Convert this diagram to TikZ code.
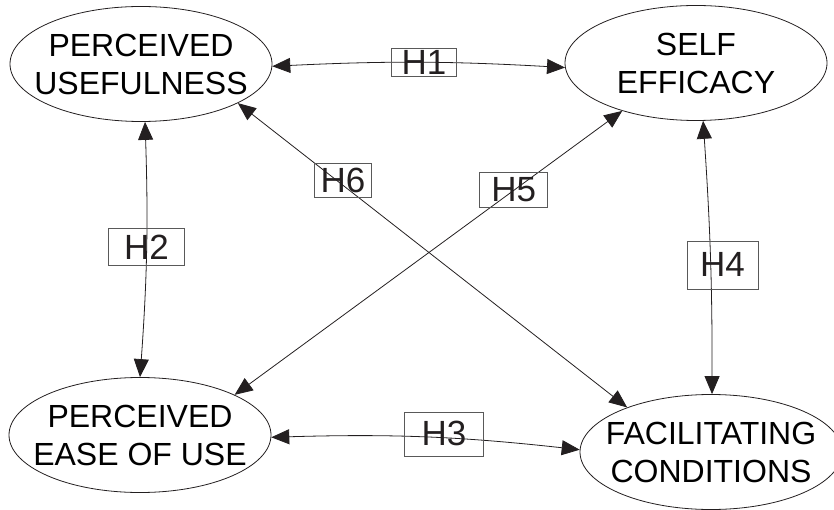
\documentclass[tikz,border=0pt]{standalone}
\usepackage[dvipsnames]{xcolor}
\usepackage{fontspec}
\setmainfont{Liberation Sans}
\usetikzlibrary{arrows.meta,shapes.geometric}
\definecolor{BoxColor}{gray}{0.35}
\newcommand{\ew}{262pt}
\newcommand{\eh}{115pt}
\tikzset{
    construct/.style={ellipse,draw=Black,line width=0.8pt,inner xsep=-40pt,inner ysep=0pt,
        minimum width=\ew,minimum height=\eh,align=center,
        font=\fontsize{32}{38}\selectfont},
    link/.style={line width=0.8pt,Black,{Triangle[length=18pt,width=15pt]}-{Triangle[length=18pt,width=15pt]}},
    hyp/.style={draw=BoxColor,line width=0.6pt,inner sep=0pt,text=Black,
        font=\fontsize{35}{35}\selectfont,anchor=center}
}

\begin{document}
\begin{tikzpicture}[x=1pt,y=-1pt]
    \useasboundingbox (0,0) rectangle (834,510);    % Freeze the bounding box
    %
    % --- --- --- Constructs
    \node[construct] (PU)   at (141,64)  {PERCEIVED\\USEFULNESS};
    \node[construct] (SE)   at (696,63)  {SELF\\EFFICACY};
    \node[construct] (PEOU) at (140,435) {PERCEIVED\\EASE OF USE};
    \node[construct] (FC)   at (711,452) {FACILITATING\\CONDITIONS};
    %
    % --- --- --- Hypotheses
    \draw[link] (PU.-1) to[bend left=3] node[hyp,pos=0.52,minimum width=65pt,minimum height=28pt] {H1} (SE.182);
    \draw[link] (PU.-86) to[bend left=3] node[hyp,pos=0.49,minimum width=76pt,minimum height=37pt] {H2} (PEOU.90);
    \draw[link] (PEOU.-1) to[bend left=4] node[hyp,pos=0.55,xshift=4pt,yshift=4pt,minimum width=79pt,minimum height=44pt] {H3} (FC.179);
    \draw[link] (SE.-83) to[bend left=2] node[hyp,pos=0.53,xshift=12pt,minimum width=71pt,minimum height=48pt] {H4} (FC.89);
    \draw[link] (PEOU.23) -- node[hyp,pos=0.72,yshift=1pt,minimum width=68pt,minimum height=35pt] {H5} (SE.213);
    \draw[link] (PU.-22) -- node[hyp,pos=0.27,yshift=5pt,minimum width=57pt,minimum height=34pt] {H6} (FC.152);
\end{tikzpicture}
\end{document}
